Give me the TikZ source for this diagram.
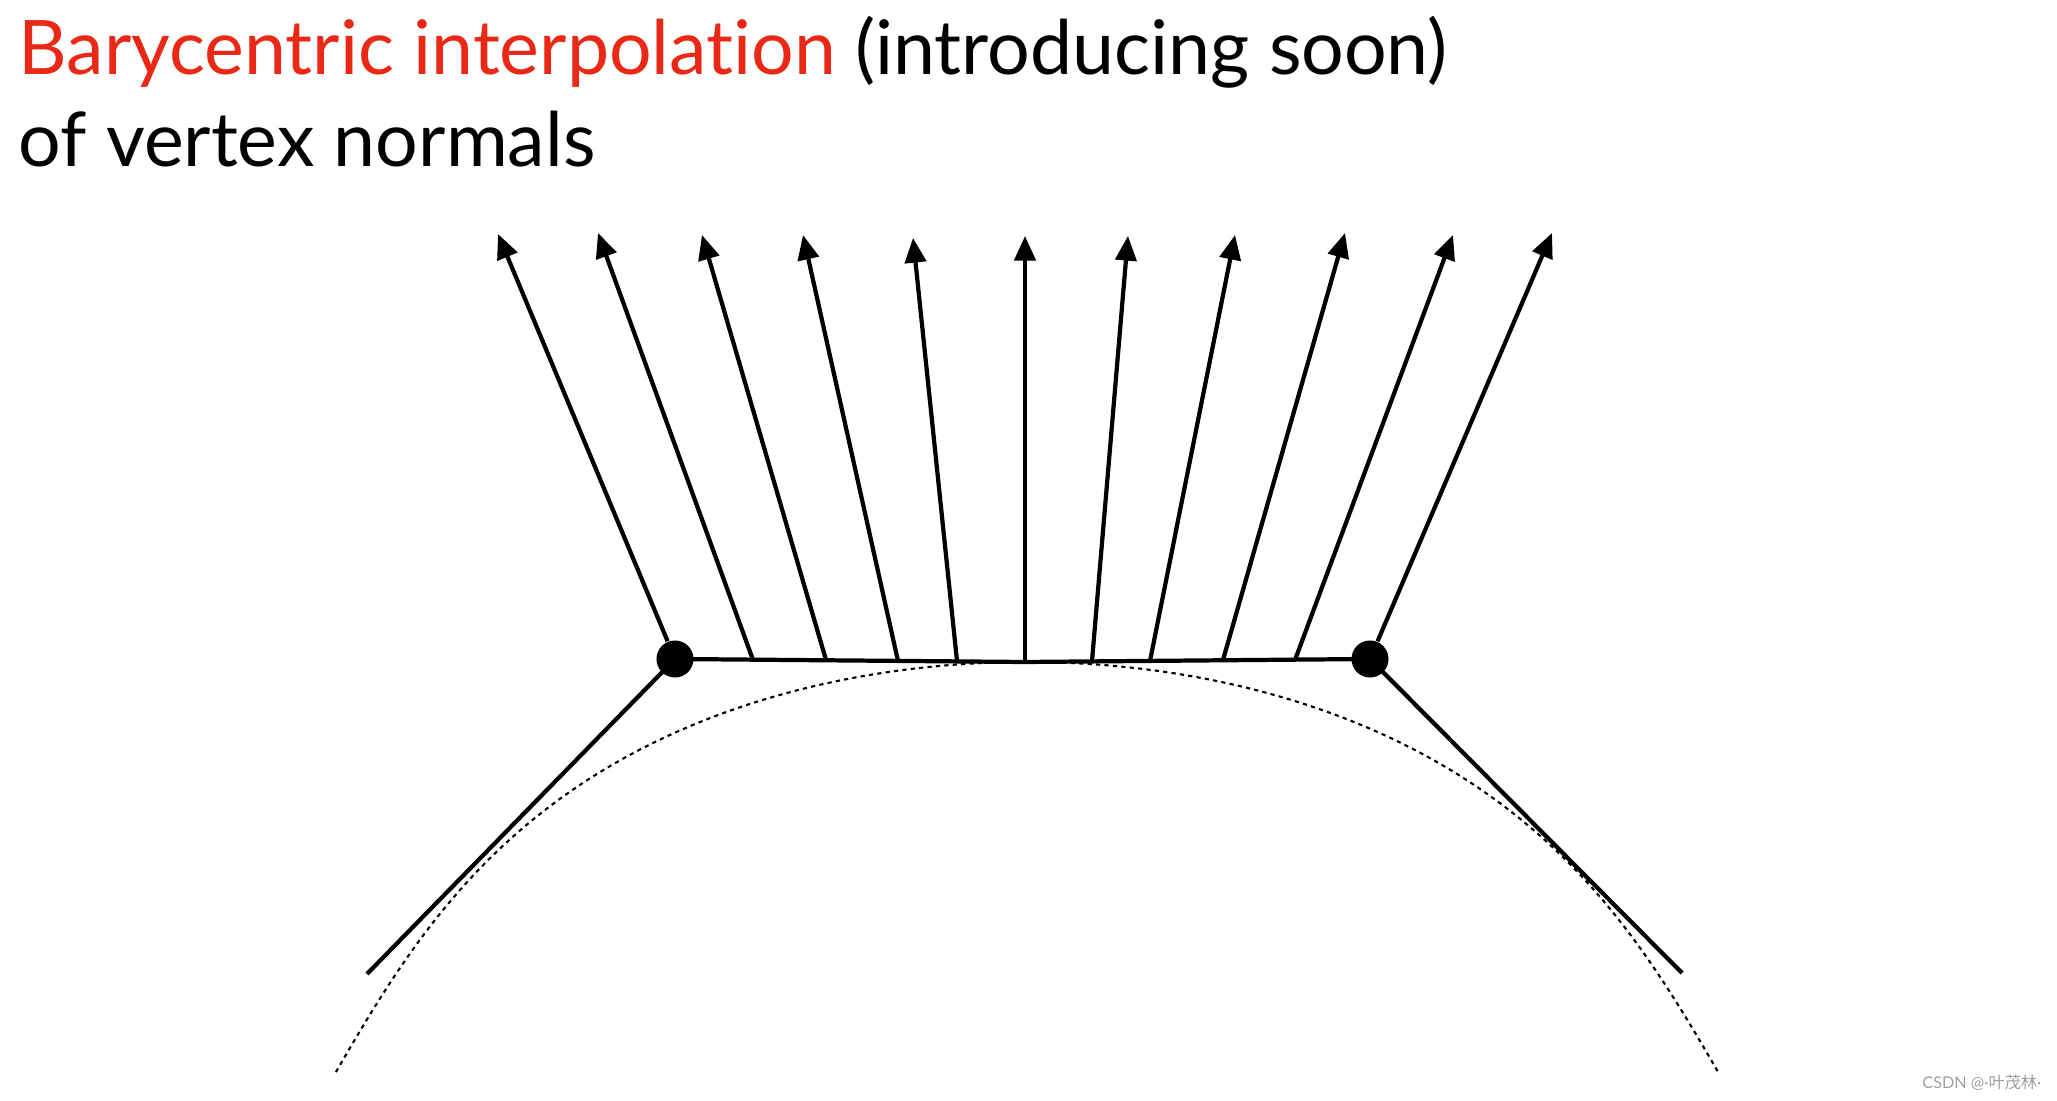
\documentclass[tikz,border=0pt]{standalone}
\usepackage{fontspec}
\setmainfont{Lato}[Ligatures=NoCommon]
\newfontfamily\cjkfont{Noto Sans CJK SC}
\usetikzlibrary{arrows.meta}
\definecolor{slidered}{RGB}{234,40,22}
\tikzset{
  normalarrow/.style={line width=1.2pt,-{Triangle[length=7pt,width=6pt]}},
  facet/.style={line width=1.2pt},
  vertexdot/.style={circle,fill=black,inner sep=0pt,minimum size=0.37cm},
  surface/.style={line width=0.6pt,dash pattern=on 1.2pt off 1.2pt}
}
\begin{document}
\begin{tikzpicture}[x=0.01cm,y=-0.01cm]
\useasboundingbox (0,0) rectangle (2057,1101);
% heading
\node[anchor=base west,inner sep=0pt,font=\fontsize{21.4}{25}\selectfont] (title) at (18,75) {\textcolor{slidered}{Barycentric interpolation} (introducing soon)};
\node[anchor=base west,inner sep=0pt,font=\fontsize{21.4}{25}\selectfont] (subtitle) at (18,167) {of vertex normals};
% true surface
\draw[surface] plot[domain=-20.25:20.25,samples=121,smooth] ({1027+\x*sqrt(1947.6-2.9196*\x*\x+(0.04963*\x*\x)^2)},{662+\x*\x});
% facets
\node[vertexdot] (A) at (675,659) {};
\node[vertexdot] (B) at (1370,659) {};
\coordinate (L) at (367,974);
\coordinate (R) at (1682,973);
\coordinate (M) at (1025,662);
\draw[facet] (L) -- (A.center) -- (M) -- (B.center) -- (R);
% interpolated normals
\draw[normalarrow] (A) -- (498,234) coordinate (h1);
\foreach \i/\tx/\ty/\hx/\hy in {2/753/660/598/233,3/826/660/702/235,4/898/661/803/235,5/957/661/913/238,6/1025/662/1025/236,7/1092/661/1128/236,8/1150/661/1235/235,9/1223/660/1345/233,10/1295/660/1453/235}{
  \coordinate (t\i) at (\tx,\ty);
  \coordinate (h\i) at (\hx,\hy);
  \draw[normalarrow] (t\i) -- (h\i);
}
\draw[normalarrow] (B) -- (1552,233) coordinate (h11);
% watermark
\node[anchor=east,inner sep=0pt,text=gray!75,font=\fontsize{4.6}{5.5}\selectfont] (mark) at (2042,1083) {CSDN @·{\cjkfont 叶茂林}·};
\end{tikzpicture}
\end{document}
